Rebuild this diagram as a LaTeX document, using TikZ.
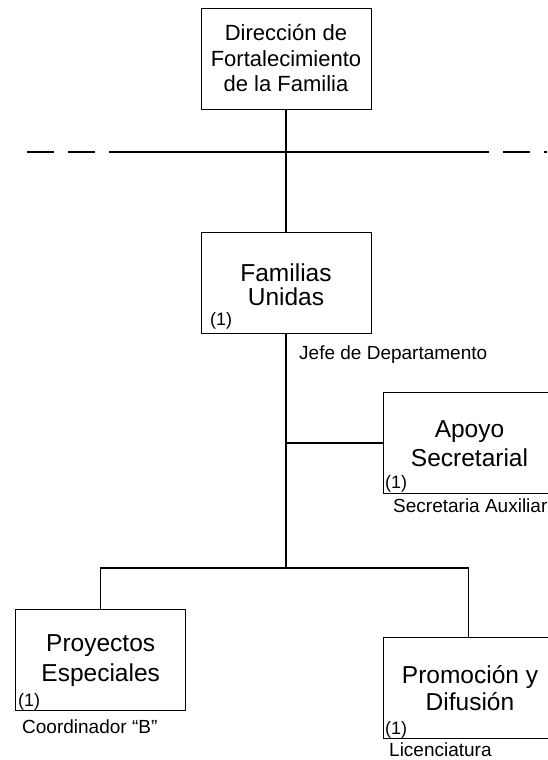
\documentclass[tikz,border=0pt]{standalone}
\usepackage{fontspec}
\setmainfont{Liberation Sans}
\begin{document}
\begin{tikzpicture}[x=1pt,y=-1pt,
  box/.style={draw, line width=0.9pt, minimum width=170pt, minimum height=101pt, inner sep=0pt},
  conn/.style={line width=1.5pt},
  ttl/.style={anchor=base, inner sep=0pt, font=\fontsize{24.5}{26}\selectfont},
  ttlsm/.style={anchor=base, inner sep=0pt, font=\fontsize{22}{25}\selectfont},
  lbl/.style={anchor=base west, inner sep=0pt, font=\fontsize{19}{21}\selectfont},
  num/.style={anchor=base west, inner sep=0pt, font=\fontsize{18}{20}\selectfont},
]
\useasboundingbox (0,0) rectangle (547,760);

% boxes
\node[box] (dir) at (286,59) {};
\node[box] (fam) at (286,282.5) {};
\node[box] (apo) at (468.5,443) {};
\node[box] (pro) at (100.7,659.5) {};
\node[box] (pdf) at (468.3,687.5) {};

% titles
\node[ttlsm] (dir1) at (286,41) {Dirección de};
\node[ttlsm] (dir2) at (286,66.5) {Fortalecimiento};
\node[ttlsm] (dir3) at (286,92) {de la Familia};

\node[ttl] (fam1) at (286,281) {Familias};
\node[ttl] (fam2) at (286,305) {Unidas};

\node[ttl] (apo1) at (469.5,437) {Apoyo};
\node[ttl] (apo2) at (469.5,466) {Secretarial};

\node[ttl] (pro1) at (100.7,651) {Proyectos};
\node[ttl] (pro2) at (100.7,681) {Especiales};

\node[ttl] (pdf1) at (470,683) {Promoción y};
\node[ttl] (pdf2) at (470,710) {Difusión};

% numbers
\node[num] (famn) at (210,325) {(1)};
\node[num] (apon) at (385,488) {(1)};
\node[num] (pron) at (18,706) {(1)};
\node[num] (pdfn) at (385,734) {(1)};

% position labels
\node[lbl] (famp) at (299,359) {Jefe de Departamento};
\node[lbl] (apop) at (393,512) {Secretaria Auxiliar};
\node[lbl] (prop) at (22,733) {Coordinador “B”};
\node[lbl] (pdfp) at (389,756) {Licenciatura};

% dashed separator
\draw[conn, dash pattern=on 27pt off 14pt] (27,152) -- (109,152);
\draw[conn] (109,152) -- (489,152);
\draw[conn, dash pattern=on 27pt off 14pt] (503,152) -- (547,152);

% connectors
\coordinate (ja) at (286,443);
\coordinate (jn) at (286,568);
\draw[conn] (dir.south) -- (fam.north);
\draw[conn] (fam.south) -- (jn);
\draw[conn] (ja) -- (apo.west);
\draw[conn] (pro.north) |- (jn) -| (pdf.north);
\end{tikzpicture}
\end{document}
